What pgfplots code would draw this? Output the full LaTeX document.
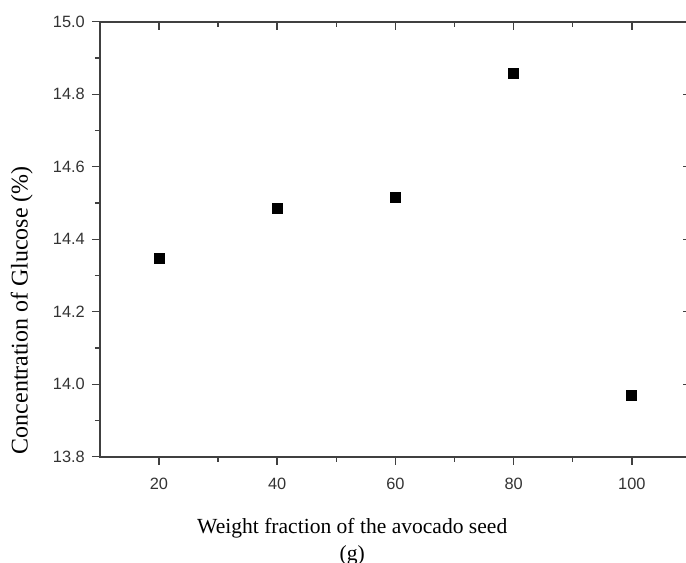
\documentclass[border=0pt]{standalone}
\usepackage{fontspec}
\setmainfont{Liberation Serif}
\newfontfamily\arial{Liberation Sans}
\usepackage{pgfplots}
\pgfplotsset{compat=1.18}
\begin{document}
\begin{tikzpicture}
\pgfplotsset{
  common/.style={
    width=296.25pt, height=218pt, scale only axis,
    xmin=10, xmax=110, ymin=13.8, ymax=15.0,
    xtick={20,40,60,80,100}, minor xtick={30,50,70,90},
    ytick={13.8,14.0,14.2,14.4,14.6,14.8,15.0},
    minor ytick={13.9,14.1,14.3,14.5,14.7,14.9},
    major tick length=4pt, minor tick length=2.5pt,
    every tick/.style={black!75, line width=0.7pt},
    axis line style={black!75, line width=0.8pt},
  }
}
\begin{axis}[common,
  axis lines=box,
  tick align=outside,
  xtick pos=bottom, ytick pos=left,
  /pgf/number format/assume math mode=true,
  yticklabel style={/pgf/number format/fixed, /pgf/number format/fixed zerofill, /pgf/number format/precision=1, font=\arial\fontsize{8.2}{9}\selectfont, text=black!80},
  xticklabel style={font=\arial\fontsize{8.2}{9}\selectfont, text=black!80, yshift=-3pt},
  xlabel={Weight fraction of the avocado seed\\(g)},
  xlabel style={at={(axis description cs:0.427,-0.125)}, anchor=north, align=center, font=\fontsize{10.8}{13.5}\selectfont},
  ylabel={Concentration of Glucose (\%)},
  ylabel style={at={(axis description cs:-0.132,0.337)}, anchor=center, font=\fontsize{12}{14}\selectfont},
]
\addplot[only marks, mark=square*, mark size=2.5pt, black] coordinates {
  (20,14.346) (40,14.484) (60,14.516) (80,14.858) (100,13.969)
};
\coordinate (bbsw) at (axis cs:-6.88,13.508);
\coordinate (bbne) at (axis cs:109.16,15.06);
\end{axis}
\begin{axis}[common,
  axis line style={draw=none},
  tick align=inside,
  xtick pos=top, ytick pos=right,
  xticklabels={}, yticklabels={},
]
\end{axis}
\pgfresetboundingbox
\path[use as bounding box] (bbsw) rectangle (bbne);
\end{tikzpicture}
\end{document}
